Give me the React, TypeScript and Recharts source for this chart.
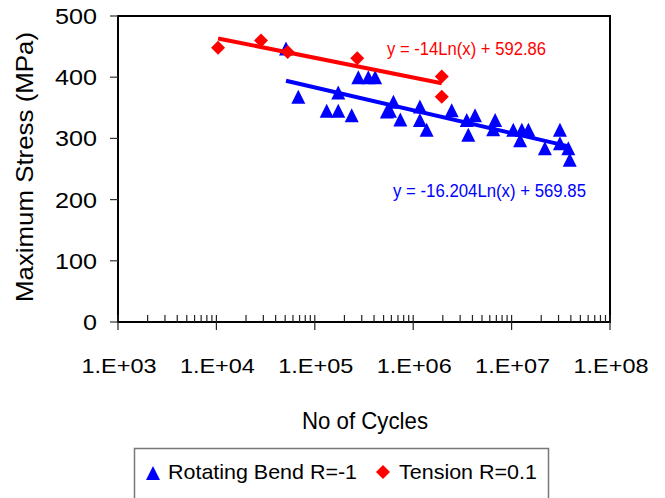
import React from 'react'
import { ScatterChart, Scatter, XAxis, YAxis, ReferenceArea } from 'recharts'

// rotating bending, R = -1
const bendCycles = [
  5.1e4, 6.8e4, 1.73e5, 1.32e5, 1.73e5, 2.37e5, 2.77e5, 3.5e5, 4.1e5, 5.4e5,
  6.3e5, 5.8e5, 7.4e5, 1.17e6, 1.17e6, 1.37e6, 2.46e6, 3.5e6, 4.25e6, 3.63e6,
  6.8e6, 6.5e6, 1.04e7, 1.27e7, 1.48e7, 1.22e7, 2.18e7, 3.1e7, 3.1e7, 3.77e7,
  3.9e7,
]
const bendStress = [
  447, 368, 375, 345, 345, 338, 400, 400, 400, 344,
  360, 345, 331, 352, 330, 314, 346, 330, 338, 306,
  330, 315, 314, 314, 314, 297, 284, 314, 292, 284,
  265,
]

// axial tension, R = 0.1
const tensionCycles = [1.04e4, 2.84e4, 5.3e4, 2.7e5, 1.95e6, 1.95e6]
const tensionStress = [448, 460, 441, 431, 401, 368]

// logarithmic fits y = a*ln(x) + b
const bendFit = { a: -16.204, b: 569.85 }
const tensionFit = { a: -14, b: 592.86 }

const majorTicks = [1e3, 1e4, 1e5, 1e6, 1e7, 1e8]
const majorLabels = ['1.E+03', '1.E+04', '1.E+05', '1.E+06', '1.E+07', '1.E+08']
const minorMultipliers = [2, 3, 4, 5, 6, 7, 8, 9]
const stressTicks = [0, 100, 200, 300, 400, 500]

const BLUE = '#0000FF'
const RED = '#FF0000'
const FONT = '"Liberation Sans", Arial, sans-serif'

const minorTicks = majorTicks.slice(0, -1).flatMap((d) => minorMultipliers.map((m) => m * d))
const allTicks = [...majorTicks, ...minorTicks].sort((p, q) => p - q)

const bendData = bendCycles.map((x, i) => ({ x, y: bendStress[i] }))
const tensionData = tensionCycles.map((x, i) => ({ x, y: tensionStress[i] }))

function fitLine(fit: { a: number; b: number }, xs: number[]) {
  const lo = Math.min(...xs)
  const hi = Math.max(...xs)
  return [lo, hi].map((x) => ({ x, y: fit.a * Math.log(x) + fit.b }))
}

const bendTrend = fitLine(bendFit, bendCycles)
const tensionTrend = fitLine(tensionFit, tensionCycles)

const fmt = (v: number) => (v < 0 ? `-${Math.abs(v)}` : `${v}`)
const bendEq = `y = ${fmt(bendFit.a)}Ln(x) + ${bendFit.b}`
const tensionEq = `y = ${fmt(tensionFit.a)}Ln(x) + ${tensionFit.b}`

const Triangle = (props: any) => {
  const { cx, cy, fill } = props
  return <polygon points={`${cx},${cy - 7} ${cx + 7},${cy + 7} ${cx - 7},${cy + 7}`} fill={fill} />
}

const Diamond = (props: any) => {
  const { cx, cy, fill } = props
  return <polygon points={`${cx},${cy - 7} ${cx + 7},${cy} ${cx},${cy + 7} ${cx - 7},${cy}`} fill={fill} />
}

const NoMarker = () => <g />

function CycleTick(props: any) {
  const { x, y, payload } = props
  const i = majorTicks.indexOf(payload.value)
  if (i < 0) {
    return <line x1={x} x2={x} y1={y - 7} y2={y} stroke="#222" strokeWidth={1.2} />
  }
  return (
    <g>
      <line x1={x} x2={x} y1={y - 7} y2={y + 8} stroke="#222" strokeWidth={1.2} />
      <text
        x={x + 1}
        y={y + 51}
        textAnchor="middle"
        fontSize={21}
        fontFamily={FONT}
        fill="#000"
        textLength={75}
        lengthAdjust="spacingAndGlyphs"
      >
        {majorLabels[i]}
      </text>
    </g>
  )
}

function StressTick(props: any) {
  const { x, y, payload } = props
  const s = String(payload.value)
  return (
    <text
      x={x}
      y={y + 8}
      textAnchor="end"
      fontSize={22}
      fontFamily={FONT}
      fill="#000"
      textLength={14 * s.length}
      lengthAdjust="spacingAndGlyphs"
    >
      {s}
    </text>
  )
}

export default function App() {
  return (
    <div style={{ position: 'absolute', left: 0, top: 0, width: 665, height: 498, background: '#fff' }}>
      <ScatterChart width={665} height={498} margin={{ top: 16, right: 55, bottom: 0, left: 0 }}>
        <XAxis
          dataKey="x"
          type="number"
          scale="log"
          domain={[1e3, 1e8]}
          allowDataOverflow
          ticks={allTicks}
          interval={0}
          tick={<CycleTick />}
          tickLine={false}
          tickSize={0}
          tickMargin={0}
          height={176}
          axisLine={{ stroke: '#000', strokeWidth: 2 }}
        />
        <YAxis
          dataKey="y"
          type="number"
          domain={[0, 500]}
          ticks={stressTicks}
          interval={0}
          width={118}
          tick={<StressTick />}
          tickSize={8}
          tickMargin={13}
          tickLine={{ stroke: '#333', strokeWidth: 1.2 }}
          axisLine={{ stroke: '#000', strokeWidth: 2 }}
        />
        <ReferenceArea x1={1e3} x2={1e8} y1={0} y2={500} fill="none" stroke="#000" strokeWidth={2} />
        <Scatter
          data={bendTrend}
          line={{ stroke: BLUE, strokeWidth: 4 }}
          shape={<NoMarker />}
          legendType="none"
          isAnimationActive={false}
        />
        <Scatter data={bendData} fill={BLUE} shape={<Triangle />} isAnimationActive={false} />
        <Scatter
          data={tensionTrend}
          line={{ stroke: RED, strokeWidth: 4 }}
          shape={<NoMarker />}
          legendType="none"
          isAnimationActive={false}
        />
        <Scatter data={tensionData} fill={RED} shape={<Diamond />} isAnimationActive={false} />
      </ScatterChart>

      <svg
        width={665}
        height={498}
        style={{ position: 'absolute', left: 0, top: 0, pointerEvents: 'none' }}
        fontFamily={FONT}
      >
        <text
          transform="translate(33,167) rotate(-90)"
          textAnchor="middle"
          fontSize={24}
          fill="#000"
          textLength={270}
          lengthAdjust="spacingAndGlyphs"
        >
          Maximum Stress (MPa)
        </text>
        <text x={365} y={429} textAnchor="middle" fontSize={24} fill="#000" textLength={126} lengthAdjust="spacingAndGlyphs">
          No of Cycles
        </text>

        <text x={387} y={55} fontSize={18} fill={RED} textLength={159} lengthAdjust="spacingAndGlyphs">
          {tensionEq}
        </text>
        <text x={393} y={197} fontSize={18} fill={BLUE} textLength={193} lengthAdjust="spacingAndGlyphs">
          {bendEq}
        </text>

        <rect x={134.5} y={448.5} width={414} height={70} fill="#fff" stroke="#777" strokeWidth={1.5} />
        <Triangle cx={153} cy={473} fill={BLUE} />
        <text x={168} y={479} fontSize={21} fill="#000" textLength={189} lengthAdjust="spacingAndGlyphs">
          Rotating Bend R=-1
        </text>
        <Diamond cx={383} cy={472} fill={RED} />
        <text x={399} y={479} fontSize={21} fill="#000" textLength={138} lengthAdjust="spacingAndGlyphs">
          Tension R=0.1
        </text>
      </svg>
    </div>
  )
}
